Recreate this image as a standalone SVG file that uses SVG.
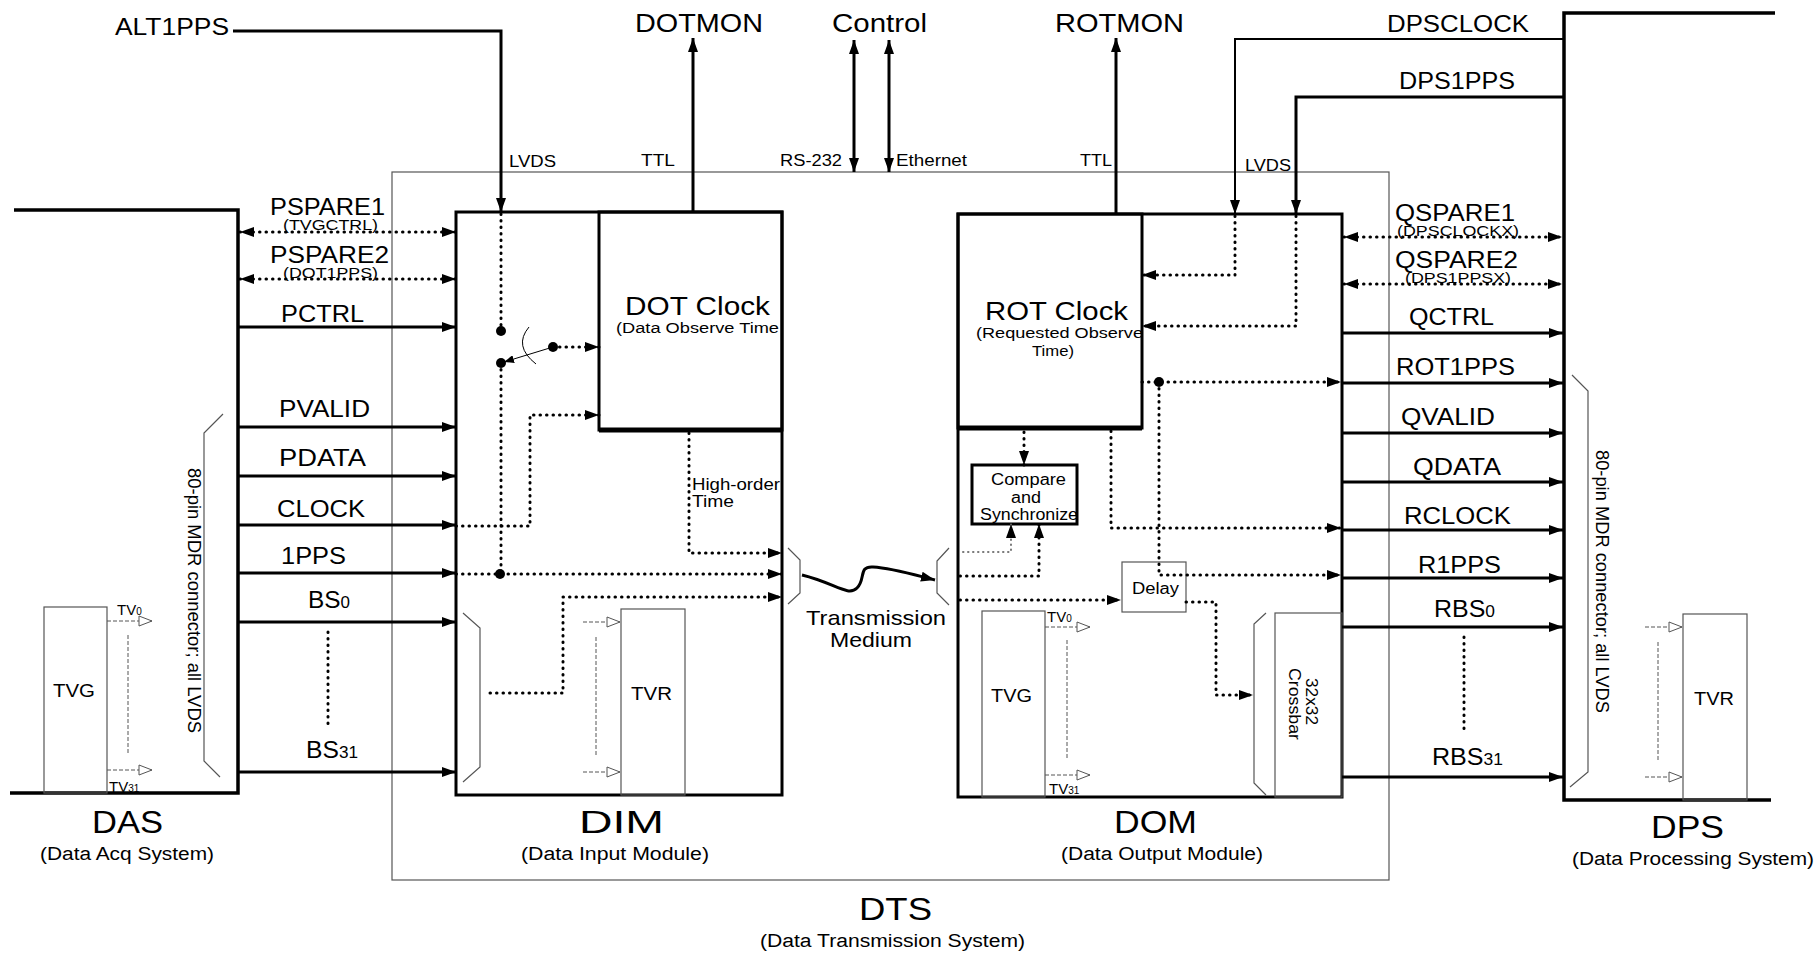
<svg xmlns="http://www.w3.org/2000/svg" width="1817" height="953" viewBox="0 0 1817 953">
<style>
.t{font-family:"Liberation Sans",Arial,sans-serif;fill:#000}
.s14{font-size:14px}.s15{font-size:15px}.s16{font-size:16px}.s17{font-size:17px}.s18{font-size:18px}.s21{font-size:21px}.s23{font-size:23px}.s25{font-size:25px}.s32{font-size:32px}
.thick{fill:none;stroke:#000;stroke-width:3.5}
.box{fill:none;stroke:#000;stroke-width:3}
.thin{fill:none;stroke:#555;stroke-width:1.2}
.sol{fill:none;stroke:#000;stroke-width:3}
.dot{fill:none;stroke:#000;stroke-width:3;stroke-linecap:round;stroke-dasharray:0.5 6}
.dotg{fill:none;stroke:#777;stroke-width:2;stroke-linecap:round;stroke-dasharray:0.5 4.5}
.tv{fill:none;stroke:#555;stroke-width:1;stroke-dasharray:4 2}
.jn{fill:#000}
</style>
<defs>
<marker id="ah" viewBox="0 0 14 10" refX="14" refY="5" markerWidth="14" markerHeight="10" markerUnits="userSpaceOnUse" orient="auto-start-reverse"><path d="M0,0 L14,5 L0,10 z" fill="#000"/></marker>
<marker id="ahs" viewBox="0 0 10 8" refX="10" refY="4" markerWidth="10" markerHeight="8" markerUnits="userSpaceOnUse" orient="auto"><path d="M0,0 L10,4 L0,8 z" fill="#000"/></marker>
<marker id="oa" viewBox="0 0 15 12" refX="14" refY="6" markerWidth="15" markerHeight="12" markerUnits="userSpaceOnUse" orient="auto"><path d="M1,1 L14,6 L1,11 z" fill="#fff" stroke="#555" stroke-width="1"/></marker>
</defs>

<g id="DTS">
<rect class="thin" x="392" y="172" width="997" height="708"/>
<text class="t s32" x="859" y="920" textLength="73" lengthAdjust="spacingAndGlyphs">DTS</text>
<text class="t s18" x="760" y="947" textLength="265" lengthAdjust="spacingAndGlyphs">(Data Transmission System)</text>
</g>

<g id="DAS">
<path class="thick" d="M14,210 H238 V793 H10"/>
<path class="thin" d="M223,414 L204,433 V761 L220,777"/>
<text class="t s18" transform="translate(188,468) rotate(90)" textLength="265" lengthAdjust="spacingAndGlyphs">80-pin MDR connector; all LVDS</text>
<rect class="thin" x="44" y="607" width="63" height="186"/>
<text class="t s18" x="53" y="697" textLength="42" lengthAdjust="spacingAndGlyphs">TVG</text>
<line class="tv" x1="107" y1="621" x2="152" y2="621" marker-end="url(#oa)"/>
<line class="tv" x1="128" y1="635" x2="128" y2="753"/>
<line class="tv" x1="107" y1="770" x2="152" y2="770" marker-end="url(#oa)"/>
<text class="t s15" x="117" y="615">TV<tspan font-size="10">0</tspan></text>
<text class="t s15" x="109" y="792">TV<tspan font-size="10">31</tspan></text>
<text class="t s32" x="92" y="833" textLength="71" lengthAdjust="spacingAndGlyphs">DAS</text>
<text class="t s18" x="40" y="860" textLength="174" lengthAdjust="spacingAndGlyphs">(Data Acq System)</text>
</g>

<g id="DIM">
<rect class="box" x="456" y="212" width="326" height="583"/>
<path class="thin" d="M463,613 L480,628 V767 L463,782"/>
<path class="thin" d="M788,548 L800,560 V593 L788,604"/>
<rect class="thin" x="621" y="609" width="64" height="186"/>
<text class="t s18" x="631" y="700" textLength="41" lengthAdjust="spacingAndGlyphs">TVR</text>
<line class="tv" x1="583" y1="622" x2="620" y2="622" marker-end="url(#oa)"/>
<line class="tv" x1="596" y1="637" x2="596" y2="757"/>
<line class="tv" x1="583" y1="772" x2="620" y2="772" marker-end="url(#oa)"/>
<text class="t s16" x="692" y="490" textLength="88" lengthAdjust="spacingAndGlyphs">High-order</text>
<text class="t s16" x="692" y="507" textLength="42" lengthAdjust="spacingAndGlyphs">Time</text>
<text class="t s32" x="579" y="833" textLength="85" lengthAdjust="spacingAndGlyphs">DIM</text>
<text class="t s18" x="521" y="860" textLength="188" lengthAdjust="spacingAndGlyphs">(Data Input Module)</text>
</g>

<g id="DOTClock">
<rect class="box" x="599" y="212" width="183" height="218"/>
<line x1="599" y1="430" x2="782" y2="430" stroke="#000" stroke-width="5"/>
<text class="t s25" x="625" y="315" textLength="145" lengthAdjust="spacingAndGlyphs">DOT Clock</text>
<text class="t s14" x="616" y="333" textLength="163" lengthAdjust="spacingAndGlyphs">(Data Observe Time</text>
</g>

<g id="DOM">
<rect class="box" x="958" y="214" width="384" height="583"/>
<path class="thin" d="M949,548 L937,561 V593 L949,605"/>
<rect class="thin" x="982" y="611" width="63" height="186"/>
<text class="t s18" x="991" y="702" textLength="41" lengthAdjust="spacingAndGlyphs">TVG</text>
<line class="tv" x1="1045" y1="627" x2="1090" y2="627" marker-end="url(#oa)"/>
<line class="tv" x1="1067" y1="640" x2="1067" y2="758"/>
<line class="tv" x1="1045" y1="775" x2="1090" y2="775" marker-end="url(#oa)"/>
<text class="t s15" x="1047" y="622">TV<tspan font-size="10">0</tspan></text>
<text class="t s15" x="1049" y="794">TV<tspan font-size="10">31</tspan></text>
<text class="t s32" x="1114" y="833" textLength="83" lengthAdjust="spacingAndGlyphs">DOM</text>
<text class="t s18" x="1061" y="860" textLength="202" lengthAdjust="spacingAndGlyphs">(Data Output Module)</text>
</g>

<g id="ROTClock">
<rect class="box" x="958" y="214" width="184" height="214"/>
<line x1="958" y1="428" x2="1142" y2="428" stroke="#000" stroke-width="5"/>
<text class="t s25" x="985" y="320" textLength="143" lengthAdjust="spacingAndGlyphs">ROT Clock</text>
<text class="t s14" x="976" y="338" textLength="167" lengthAdjust="spacingAndGlyphs">(Requested Observe</text>
<text class="t s14" x="1032" y="356" textLength="42" lengthAdjust="spacingAndGlyphs">Time)</text>
</g>

<g id="Compare">
<rect class="box" x="972" y="465" width="105" height="59"/>
<text class="t s16" x="991" y="485" textLength="75" lengthAdjust="spacingAndGlyphs">Compare</text>
<text class="t s16" x="1011" y="503" textLength="30" lengthAdjust="spacingAndGlyphs">and</text>
<text class="t s16" x="980" y="520" textLength="98" lengthAdjust="spacingAndGlyphs">Synchronize</text>
</g>

<g id="Delay">
<rect class="thin" x="1122" y="562" width="64" height="50"/>
<text class="t s16" x="1132" y="594" textLength="47" lengthAdjust="spacingAndGlyphs">Delay</text>
</g>

<g id="Crossbar">
<rect class="thin" x="1275" y="613" width="67" height="184"/>
<path class="thin" d="M1266,613 L1254,624 V783 L1266,795"/>
<text class="t s17" transform="translate(1306,678) rotate(90)" textLength="47" lengthAdjust="spacingAndGlyphs">32x32</text>
<text class="t s17" transform="translate(1289,668) rotate(90)" textLength="72" lengthAdjust="spacingAndGlyphs">Crossbar</text>
</g>

<g id="DPS">
<path class="thick" d="M1775,13 H1564 V800 H1771"/>
<path class="thin" d="M1572,375 L1588,391 V772 L1570,787"/>
<text class="t s18" transform="translate(1596,450) rotate(90)" textLength="263" lengthAdjust="spacingAndGlyphs">80-pin MDR connector; all LVDS</text>
<rect class="thin" x="1683" y="614" width="64" height="186"/>
<text class="t s18" x="1694" y="705" textLength="40" lengthAdjust="spacingAndGlyphs">TVR</text>
<line class="tv" x1="1645" y1="627" x2="1682" y2="627" marker-end="url(#oa)"/>
<line class="tv" x1="1658" y1="642" x2="1658" y2="762"/>
<line class="tv" x1="1645" y1="777" x2="1682" y2="777" marker-end="url(#oa)"/>
<text class="t s32" x="1651" y="838" textLength="73" lengthAdjust="spacingAndGlyphs">DPS</text>
<text class="t s18" x="1572" y="865" textLength="242" lengthAdjust="spacingAndGlyphs">(Data Processing System)</text>
</g>

<g id="connectors">
<path class="sol" d="M233,31 H501 V212" marker-end="url(#ah)"/>
<path class="sol" d="M693,212 V38" marker-end="url(#ah)"/>
<path class="sol" d="M854,172 V40" marker-start="url(#ah)" marker-end="url(#ah)"/>
<path class="sol" d="M889,172 V40" marker-start="url(#ah)" marker-end="url(#ah)"/>
<path class="sol" d="M1116,214 V38" marker-end="url(#ah)"/>
<path class="sol" style="stroke-width:2" d="M1564,39 H1235 V214" marker-end="url(#ah)"/>
<path class="sol" d="M1564,97 H1296 V214" marker-end="url(#ah)"/>

<path class="dot" d="M240,232 H456" marker-start="url(#ah)" marker-end="url(#ah)"/>
<path class="dot" d="M240,279 H456" marker-start="url(#ah)" marker-end="url(#ah)"/>
<path class="sol" d="M238,327 H456" marker-end="url(#ah)"/>
<path class="sol" d="M238,427 H456" marker-end="url(#ah)"/>
<path class="sol" d="M238,476 H456" marker-end="url(#ah)"/>
<path class="sol" d="M238,525 H456" marker-end="url(#ah)"/>
<path class="sol" d="M238,573 H456" marker-end="url(#ah)"/>
<path class="sol" d="M238,622 H456" marker-end="url(#ah)"/>
<path class="sol" d="M238,772 H456" marker-end="url(#ah)"/>
<path class="dot" d="M328,632 V725"/>

<path class="dot" d="M1344,237 H1562" marker-start="url(#ah)" marker-end="url(#ah)"/>
<path class="dot" d="M1344,284 H1562" marker-start="url(#ah)" marker-end="url(#ah)"/>
<path class="sol" d="M1342,333 H1563" marker-end="url(#ah)"/>
<path class="sol" d="M1342,383 H1563" marker-end="url(#ah)"/>
<path class="sol" d="M1342,433 H1563" marker-end="url(#ah)"/>
<path class="sol" d="M1342,482 H1563" marker-end="url(#ah)"/>
<path class="sol" d="M1342,530 H1563" marker-end="url(#ah)"/>
<path class="sol" d="M1342,578 H1563" marker-end="url(#ah)"/>
<path class="sol" d="M1342,627 H1563" marker-end="url(#ah)"/>
<path class="sol" d="M1342,777 H1563" marker-end="url(#ah)"/>
<path class="dot" d="M1464,637 V730"/>

<path class="dot" d="M501,214 V331"/>
<path class="dot" d="M501,363 V574"/>
<path class="dot" d="M456,574 H782" marker-end="url(#ah)"/>
<path class="dot" d="M553,347 H599" marker-end="url(#ah)"/>
<path class="dot" d="M456,526 H530 V415 H599" marker-end="url(#ah)"/>
<path class="dot" d="M689,433 V553 H782" marker-end="url(#ah)"/>
<path class="dot" d="M490,693 H563 V597 H782" marker-end="url(#ah)"/>
<line x1="553" y1="347" x2="504" y2="362" stroke="#000" stroke-width="1" marker-end="url(#ahs)"/>
<path d="M529,327 Q513,346 536,364" fill="none" stroke="#000" stroke-width="1"/>
<circle class="jn" cx="501" cy="331" r="5"/>
<circle class="jn" cx="501" cy="363" r="5"/>
<circle class="jn" cx="553" cy="347" r="5"/>
<circle class="jn" cx="500" cy="574" r="5"/>

<path d="M802,575 C835,583 848,597 857,588 C866,579 858,566 873,567 C892,568 915,575 935,580" fill="none" stroke="#000" stroke-width="3" marker-end="url(#ah)"/>

<path class="dot" d="M1235,216 V275 H1142" marker-end="url(#ah)"/>
<path class="dot" d="M1296,216 V326 H1142" marker-end="url(#ah)"/>
<path class="dot" d="M1142,382 H1341" marker-end="url(#ah)"/>
<path class="dot" d="M1159,382 V575 H1341" marker-end="url(#ah)"/>
<path class="dot" d="M1111,431 V528 H1341" marker-end="url(#ah)"/>
<path class="dot" d="M1024,432 V465" marker-end="url(#ah)"/>
<path class="dotg" d="M963,552 H1011 V524" marker-end="url(#ah)"/>
<path class="dot" d="M960,576 H1039 V524" marker-end="url(#ah)"/>
<path class="dot" d="M960,600 H1121" marker-end="url(#ah)"/>
<path class="dot" d="M1186,602 H1216 V695 H1253" marker-end="url(#ah)"/>
<circle class="jn" cx="1159" cy="382" r="5"/>
</g>

<g id="labels">
<text class="t s23" x="115" y="35" textLength="114" lengthAdjust="spacingAndGlyphs">ALT1PPS</text>
<text class="t s25" x="635" y="32" textLength="128" lengthAdjust="spacingAndGlyphs">DOTMON</text>
<text class="t s25" x="832" y="32" textLength="95" lengthAdjust="spacingAndGlyphs">Control</text>
<text class="t s25" x="1055" y="32" textLength="129" lengthAdjust="spacingAndGlyphs">ROTMON</text>
<text class="t s23" x="1387" y="32" textLength="142" lengthAdjust="spacingAndGlyphs">DPSCLOCK</text>
<text class="t s23" x="1399" y="89" textLength="116" lengthAdjust="spacingAndGlyphs">DPS1PPS</text>
<text class="t s16" x="509" y="167" textLength="47" lengthAdjust="spacingAndGlyphs">LVDS</text>
<text class="t s16" x="641" y="166" textLength="34" lengthAdjust="spacingAndGlyphs">TTL</text>
<text class="t s16" x="780" y="166" textLength="62" lengthAdjust="spacingAndGlyphs">RS-232</text>
<text class="t s16" x="896" y="166" textLength="71" lengthAdjust="spacingAndGlyphs">Ethernet</text>
<text class="t s16" x="1080" y="166" textLength="32" lengthAdjust="spacingAndGlyphs">TTL</text>
<text class="t s16" x="1245" y="171" textLength="46" lengthAdjust="spacingAndGlyphs">LVDS</text>

<text class="t s23" x="270" y="215" textLength="115" lengthAdjust="spacingAndGlyphs">PSPARE1</text>
<text class="t s14" x="283" y="230" textLength="95" lengthAdjust="spacingAndGlyphs">(TVGCTRL)</text>
<text class="t s23" x="270" y="263" textLength="119" lengthAdjust="spacingAndGlyphs">PSPARE2</text>
<text class="t s14" x="283" y="278" textLength="95" lengthAdjust="spacingAndGlyphs">(DOT1PPS)</text>
<text class="t s23" x="281" y="322" textLength="83" lengthAdjust="spacingAndGlyphs">PCTRL</text>
<text class="t s23" x="279" y="417" textLength="91" lengthAdjust="spacingAndGlyphs">PVALID</text>
<text class="t s23" x="279" y="466" textLength="87" lengthAdjust="spacingAndGlyphs">PDATA</text>
<text class="t s23" x="277" y="517" textLength="88" lengthAdjust="spacingAndGlyphs">CLOCK</text>
<text class="t s23" x="281" y="564" textLength="65" lengthAdjust="spacingAndGlyphs">1PPS</text>
<text class="t s23" x="308" y="608" textLength="42" lengthAdjust="spacingAndGlyphs">BS<tspan font-size="16">0</tspan></text>
<text class="t s23" x="306" y="758" textLength="52" lengthAdjust="spacingAndGlyphs">BS<tspan font-size="16">31</tspan></text>

<text class="t s23" x="1395" y="221" textLength="120" lengthAdjust="spacingAndGlyphs">QSPARE1</text>
<text class="t s14" x="1397" y="236" textLength="122" lengthAdjust="spacingAndGlyphs">(DPSCLOCKX)</text>
<text class="t s23" x="1395" y="268" textLength="123" lengthAdjust="spacingAndGlyphs">QSPARE2</text>
<text class="t s14" x="1405" y="283" textLength="106" lengthAdjust="spacingAndGlyphs">(DPS1PPSX)</text>
<text class="t s23" x="1409" y="325" textLength="85" lengthAdjust="spacingAndGlyphs">QCTRL</text>
<text class="t s23" x="1396" y="375" textLength="119" lengthAdjust="spacingAndGlyphs">ROT1PPS</text>
<text class="t s23" x="1401" y="425" textLength="94" lengthAdjust="spacingAndGlyphs">QVALID</text>
<text class="t s23" x="1413" y="475" textLength="88" lengthAdjust="spacingAndGlyphs">QDATA</text>
<text class="t s23" x="1404" y="524" textLength="107" lengthAdjust="spacingAndGlyphs">RCLOCK</text>
<text class="t s23" x="1418" y="573" textLength="83" lengthAdjust="spacingAndGlyphs">R1PPS</text>
<text class="t s23" x="1434" y="617" textLength="61" lengthAdjust="spacingAndGlyphs">RBS<tspan font-size="16">0</tspan></text>
<text class="t s23" x="1432" y="765" textLength="71" lengthAdjust="spacingAndGlyphs">RBS<tspan font-size="16">31</tspan></text>

<text class="t s21" x="806" y="625" textLength="140" lengthAdjust="spacingAndGlyphs">Transmission</text>
<text class="t s21" x="830" y="647" textLength="82" lengthAdjust="spacingAndGlyphs">Medium</text>
</g>
</svg>
